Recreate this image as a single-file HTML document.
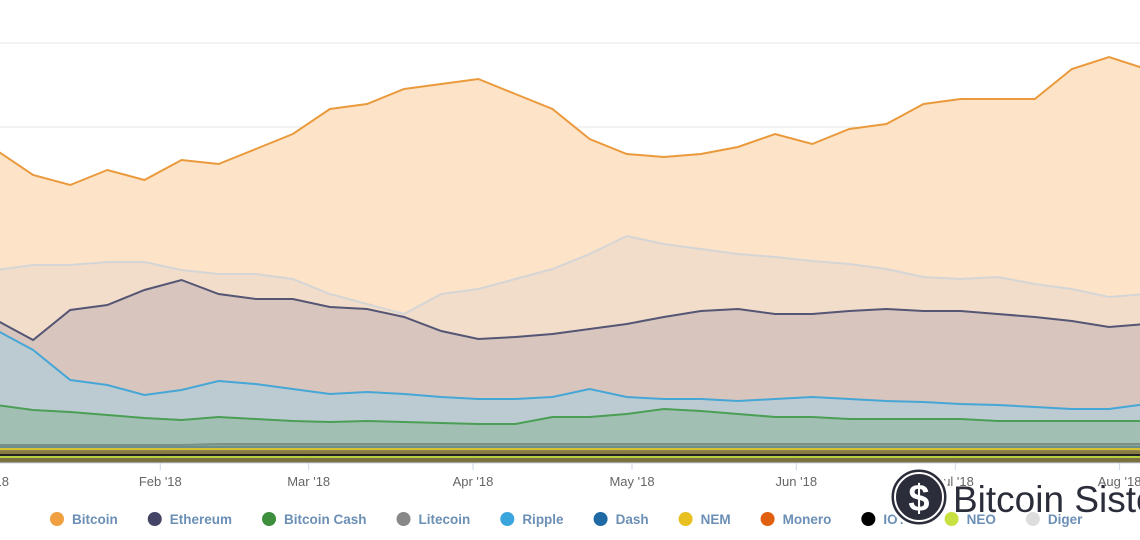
<!DOCTYPE html>
<html><head><meta charset="utf-8">
<style>
body{margin:0;background:#fff;width:1140px;height:540px;overflow:hidden;font-family:"Liberation Sans",sans-serif}
svg{position:absolute;left:0;top:0}
</style></head><body>
<svg id="chart" width="1140" height="540"></svg>
<script>
const days=[0,7,14,21,28,35,42,49,56,63,70,77,84,91,98,105,112,119,126,133,140,147,154,161,168,175,182,189,196,203,210,217];
const neo=[6,6,6,6,6,6,6,6,6,6,6,6,6,6,6,6,6,6,6,6,6,6,6,6,6,6,6,6,6,6,6,6];
const iota=[2,2,2,2,2,2,2,2,2,2,2,2,2,2,2,2,2,2,2,2,2,2,2,2,2,2,2,2,2,2,2,2];
const monero=[3,3,3,3,3,3,3,3,3,3,3,3,3,3,3,3,3,3,3,3,3,3,3,3,3,3,3,3,3,3,3,3];
const nem=[3,3,3,3,3,3,3,3,3,3,3,3,3,3,3,3,3,3,3,3,3,3,3,3,3,3,3,3,3,3,3,3];
const dash=[2,2,2,2,2,2,2,2,2,2,2,2,2,2,2,2,2,2,2,2,2,2,2,2,2,2,2,2,2,2,2,2];
const litecoin=[2,2,2,2,2,2,3,3,3,3,3,3,3,3,3,3,3,3,3,3,3,3,3,3,3,3,3,3,3,3,3,3];
const bitcoinCash=[40,35,33,30,27,25,27,25,23,22,23,22,21,20,20,27,27,30,35,33,30,27,27,25,25,25,25,23,23,23,23,23];
const ripple=[75,60,32,30,23,30,36,35,32,28,29,28,26,25,25,20,28,17,10,12,13,18,20,20,18,17,15,16,14,12,12,17];
const ethereum=[10,10,70,80,105,110,87,85,90,87,83,77,66,60,62,63,60,73,82,88,92,85,83,88,92,91,93,91,90,88,82,80];
const others=[50,75,45,43,28,10,20,25,20,13,5,3,37,50,58,65,75,88,73,62,55,57,53,47,40,34,32,37,33,32,30,30];
const bitcoin=[120,90,80,92,82,110,110,125,145,185,200,225,210,210,185,160,115,82,87,95,107,123,117,135,145,173,180,178,185,220,240,225];
const monthLabels=["'18","Feb '18","Mar '18","Apr '18","May '18","Jun '18","Jul '18","Aug '18"];
const monthDays=[0,31,59,90,120,151,181,212];
const legendNames=["Bitcoin","Ethereum","Bitcoin Cash","Litecoin","Ripple","Dash","NEM","Monero","IOTA","NEO","Diger"];
const legendColors=["#f0a040","#444466","#3d8f3d","#888","#3aa5dc","#1f6aa5","#e8c020","#e06010","#000","#c8e040","#ddd"];

const NS="http://www.w3.org/2000/svg";
const svg=document.getElementById('chart');
const xS=d=>d*5.3-4;
const base=463;
const yS=v=>base-v;
function mk(t,a){const e=document.createElementNS(NS,t);for(const k in a)e.setAttribute(k,a[k]);svg.appendChild(e);return e;}
[43,127,211,295,379].forEach(y=>{const g=mk('line',{x1:0,x2:1140,y1:y,y2:y,stroke:'#e6e6e6','stroke-width':1});

});
const layers=[
 {n:'neo',v:neo,f:'#7a7040',l:'#b8d040'},
 {n:'iota',v:iota,f:'#6e6a45',l:'#222'},
 {n:'monero',v:monero,f:'#857a48',l:'#8a7a40'},
 {n:'nem',v:nem,f:'#8d8a5a',l:'#d8c030'},
 {n:'dash',v:dash,f:'#7f958a',l:'#6a8f8a'},
 {n:'litecoin',v:litecoin,f:'#8aa699',l:'#7a8f88'},
 {n:'bitcoin-cash',v:bitcoinCash,f:'#a2bfb4',l:'#4a9f55'},
 {n:'ripple',v:ripple,f:'#bccbd2',l:'#46a6d6'},
 {n:'ethereum',v:ethereum,f:'#d7c5be',l:'#555574'},
 {n:'others',v:others,f:'#f2ddcb',l:'#d5d5d5'},
 {n:'bitcoin',v:bitcoin,f:'#fde3c8',l:'#ea9a3c'}];
let cum=days.map(()=>0);
const drawn=[];
layers.forEach(L=>{
 const lo=cum.slice(); cum=cum.map((c,i)=>c+L.v[i]);
 const top=days.map((d,i)=>[xS(d),yS(cum[i])]);
 const bot=days.map((d,i)=>[xS(d),yS(lo[i])]).reverse();
 drawn.push({L,top,bot});
});
drawn.slice().reverse().forEach(o=>{
 const p=mk('path',{d:'M'+o.top.concat(o.bot).map(q=>q.join(',')).join('L')+'Z',fill:o.L.f});
 
 
});
drawn.forEach(o=>{
 const p=mk('path',{d:'M'+o.top.map(q=>q.join(',')).join('L'),fill:'none',stroke:o.L.l,'stroke-width':2});
 
 
});
mk('line',{x1:0,x2:1140,y1:463,y2:463,stroke:'#ccd6eb'});
monthDays.forEach((d,i)=>{
 const x=xS(d);
 mk('line',{x1:x,x2:x,y1:463,y2:470,stroke:'#ccd6eb'});
 const t=mk('text',{x:i==0?-8:x,y:486,'font-size':13,fill:'#666','text-anchor':i==0?'start':'middle'});
 t.textContent=monthLabels[i];
 
 
});
let lx=50;
legendNames.forEach((n,i)=>{
 const g=document.createElementNS(NS,'g');svg.appendChild(g);
 
 
 const c=document.createElementNS(NS,'circle');c.setAttribute('cx',lx+7);c.setAttribute('cy',519);c.setAttribute('r',7);c.setAttribute('fill',legendColors[i]);g.appendChild(c);
 const t=document.createElementNS(NS,'text');t.setAttribute('x',lx+22);t.setAttribute('y',524);t.setAttribute('font-size',13.5);t.setAttribute('font-weight','bold');t.setAttribute('fill','#6b8fb5');t.textContent=n;g.appendChild(t);
 lx+=22+t.getComputedTextLength()+30;
});
const wm=document.createElementNS(NS,'g');svg.appendChild(wm);


wm.innerHTML='<circle cx="919" cy="497" r="29" fill="#2b2d3a" stroke="#fff" stroke-width="3"/><circle cx="919" cy="497" r="24" fill="none" stroke="#fff" stroke-width="2"/><text x="919" y="511" font-size="38" font-weight="bold" fill="#fff" text-anchor="middle" font-family="Liberation Sans">$</text><text x="953" y="512" font-size="37" fill="#2b2d3a" font-family="Liberation Sans">Bitcoin Sistemi</text>';
</script>
</body></html>
